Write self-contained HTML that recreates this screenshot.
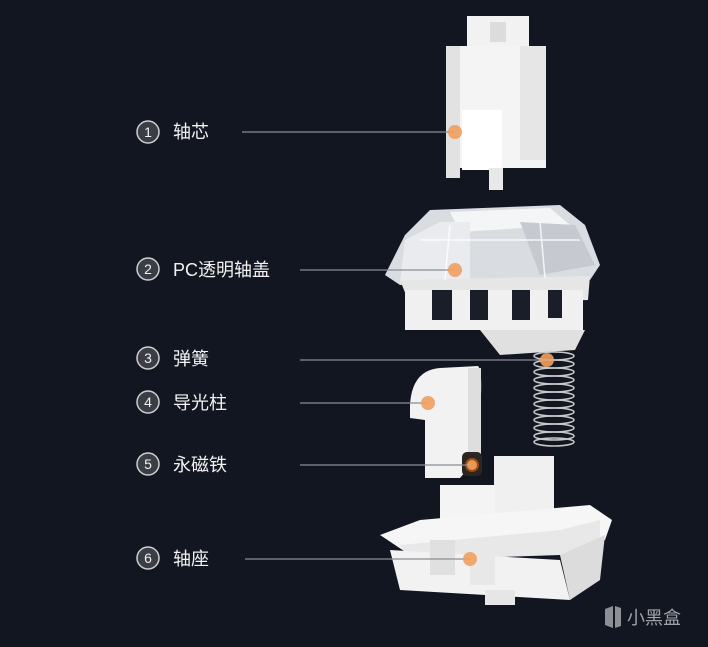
<!DOCTYPE html>
<html><head><meta charset="utf-8"><style>
html,body{margin:0;padding:0;background:#121621;}
svg{display:block}
text{font-family:"Liberation Sans","Noto Sans CJK SC",sans-serif;fill:#f2f2f2}
</style></head><body>
<svg width="708" height="647" viewBox="0 0 708 647">
<rect width="708" height="647" fill="#121621"/>
<!-- stem -->
<g>
<rect x="467" y="16" width="62" height="34" fill="#f2f2f2"/>
<rect x="490" y="22" width="16" height="20" fill="#dcdcdc"/>
<rect x="446" y="46" width="100" height="122" fill="#f4f4f4"/>
<rect x="446" y="46" width="14" height="132" fill="#e2e2e2"/>
<rect x="520" y="46" width="26" height="114" fill="#e6e6e6"/>
<rect x="462" y="110" width="40" height="60" fill="#ffffff"/>
<rect x="489" y="168" width="14" height="22" fill="#e8e8e8"/>
</g>
<!-- top housing -->
<g>
<polygon points="430,210 560,205 585,225 600,265 590,280 400,285 385,275 405,235" fill="#d9dde2"/>
<polygon points="450,212 550,208 570,225 460,232" fill="#f4f5f6"/>
<polygon points="405,240 440,222 470,222 470,280 400,282" fill="#e9ebee"/>
<polygon points="520,222 575,225 595,265 540,275" fill="#c6cad0"/>
<polygon points="400,280 590,276 588,300 410,305" fill="#e6e6e6"/>
<rect x="405" y="290" width="178" height="40" fill="#f0f0f0"/>
<rect x="432" y="290" width="20" height="30" fill="#1a1e28"/>
<rect x="470" y="290" width="18" height="30" fill="#1a1e28"/>
<rect x="512" y="290" width="18" height="30" fill="#1a1e28"/>
<rect x="548" y="290" width="14" height="28" fill="#1a1e28"/>
<polygon points="480,330 585,330 575,350 500,355" fill="#e0e0e0"/>
<g stroke="#ffffff" stroke-width="1.5" opacity="0.8">
<line x1="420" y1="240" x2="580" y2="240"/>
<line x1="450" y1="225" x2="445" y2="280"/>
<line x1="540" y1="222" x2="545" y2="278"/>
</g>
</g>
<!-- spring -->
<g stroke="#c8c8c8" stroke-width="1.6" fill="none">
<ellipse cx="554" cy="356" rx="20" ry="4"/><ellipse cx="554" cy="364" rx="20" ry="4"/>
<ellipse cx="554" cy="372" rx="20" ry="4"/><ellipse cx="554" cy="380" rx="20" ry="4"/>
<ellipse cx="554" cy="388" rx="20" ry="4"/><ellipse cx="554" cy="396" rx="20" ry="4"/>
<ellipse cx="554" cy="404" rx="20" ry="4"/><ellipse cx="554" cy="412" rx="20" ry="4"/>
<ellipse cx="554" cy="420" rx="20" ry="4"/><ellipse cx="554" cy="428" rx="20" ry="4"/>
<ellipse cx="554" cy="436" rx="20" ry="4"/><ellipse cx="554" cy="442" rx="20" ry="4"/>
</g>
<!-- light guide -->
<g>
<path d="M410,405 Q412,370 440,368 L478,366 Q482,370 481,395 L480,455 L460,478 L425,478 L425,420 L410,418 Z" fill="#f2f2f2"/>
<rect x="468" y="368" width="13" height="90" fill="#dedede"/>
</g>
<!-- magnet -->
<rect x="462" y="452" width="20" height="24" rx="5" fill="#2a2622"/>
<circle cx="472" cy="465" r="7" fill="#a04a10"/>
<!-- base -->
<g>
<rect x="494" y="456" width="60" height="60" fill="#f0f0f0"/>
<rect x="440" y="485" width="55" height="55" fill="#f4f4f4"/>
<polygon points="380,535 420,520 590,505 612,520 605,540 565,555 410,555" fill="#f6f6f6"/>
<polygon points="400,545 560,530 600,520 600,545 560,555 410,560" fill="#e8e8e8"/>
<polygon points="390,550 560,560 570,600 400,590" fill="#f2f2f2"/>
<polygon points="560,555 605,535 600,580 570,600" fill="#dcdcdc"/>
<rect x="430" y="540" width="25" height="35" fill="#e0e0e0"/>
<rect x="470" y="545" width="25" height="40" fill="#e8e8e8"/>
<rect x="485" y="590" width="30" height="15" fill="#e6e6e6"/>
</g>
<!-- leaders -->
<g stroke="#8a8d94" stroke-width="1.2">
<line x1="242" y1="132" x2="455" y2="132"/>
<line x1="300" y1="270" x2="455" y2="270"/>
<line x1="300" y1="360" x2="547" y2="360"/>
<line x1="300" y1="403" x2="428" y2="403"/>
<line x1="300" y1="465" x2="472" y2="465"/>
<line x1="245" y1="559" x2="470" y2="559"/>
</g>
<g fill="#f0a060" opacity="0.9">
<circle cx="455" cy="132" r="7"/><circle cx="455" cy="270" r="7"/>
<circle cx="547" cy="360" r="7"/><circle cx="428" cy="403" r="7"/>
<circle cx="472" cy="465" r="5"/><circle cx="470" cy="559" r="7"/>
</g>
<!-- labels -->
<g stroke="#cfcfcf" stroke-width="1.5" fill="#3a3d44">
<circle cx="148" cy="132" r="11"/><circle cx="148" cy="269" r="11"/>
<circle cx="148" cy="358" r="11"/><circle cx="148" cy="402" r="11"/>
<circle cx="148" cy="464" r="11"/><circle cx="148" cy="558" r="11"/>
</g>
<g font-size="14" text-anchor="middle">
<text x="148" y="137">1</text><text x="148" y="274">2</text><text x="148" y="363">3</text>
<text x="148" y="407">4</text><text x="148" y="469">5</text><text x="148" y="563">6</text>
</g>
<g font-size="18">
<text x="173" y="138">轴芯</text>
<text x="173" y="276">PC透明轴盖</text>
<text x="173" y="365">弹簧</text>
<text x="173" y="409">导光柱</text>
<text x="173" y="471">永磁铁</text>
<text x="173" y="565">轴座</text>
</g>
<text x="627" y="624" font-size="18" style="fill:#a0a2a8">小黑盒</text>
<path d="M605,609 l8,-3 v22 l-8,-3 z M615,606 l6,2 v18 l-6,2 z" fill="#8d8f95"/>
</svg>
</body></html>
